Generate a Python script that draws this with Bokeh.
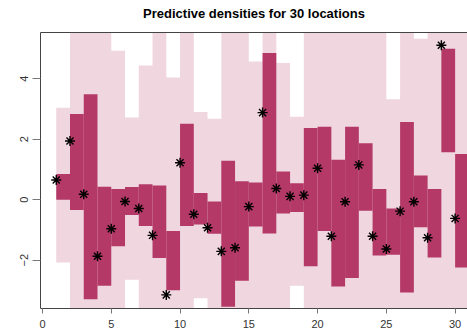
from bokeh.plotting import figure
from bokeh.models import Range1d, LinearAxis, FixedTicker
from bokeh.embed import file_html
from bokeh.resources import INLINE

# location index
locations = list(range(1, 31))
# observed values (stars)
observed = [0.65, 1.94, 0.18, -1.87, -0.96, -0.06, -0.29, -1.18, -3.15, 1.22,
            -0.48, -0.93, -1.71, -1.59, -0.23, 2.88, 0.37, 0.11, 0.15, 1.04,
            -1.21, -0.07, 1.15, -1.21, -1.63, -0.38, -0.07, -1.26, 5.11, -0.62]
# inner (dark) predictive interval
inner_lo = [0.00, -0.34, -3.29, -2.85, -1.54, -0.51, -0.87, -1.93, -3.00, -0.87,
            -0.82, -1.13, -3.54, -2.68, -0.89, -1.12, -0.46, -0.41, -2.20, -1.04,
            -2.87, -2.59, -0.37, -1.85, -1.82, -3.07, -0.91, -1.91, 1.57, -2.24]
inner_hi = [0.85, 2.83, 3.49, 0.43, 0.35, 0.42, 0.51, 0.47, -1.04, 2.51,
            0.22, -0.06, 1.29, 0.61, 0.57, 4.85, 0.93, 0.54, 2.37, 2.41,
            1.32, 2.41, 1.87, 0.35, -0.29, 2.57, 0.80, 0.35, 4.99, 1.51]
# outer (light) predictive interval
outer_lo = [-2.08, -4.2, -4.3, -4.4, -4.1, -2.65, -4.2, -4.3, -4.6, -4.1,
            -3.26, -4.0, -4.8, -4.3, -4.0, -4.2, -4.1, -2.85, -4.4, -4.2,
            -4.5, -4.4, -4.0, -4.2, -4.0, -4.6, -4.1, -4.3, -4.0, -4.5]
outer_hi = [3.04, 6.1, 6.6, 6.2, 4.93, 2.72, 4.44, 6.0, 4.04, 6.3,
            2.90, 2.68, 6.4, 6.2, 4.57, 7.2, 4.52, 2.74, 6.3, 6.2,
            6.5, 6.4, 6.0, 6.1, 3.32, 6.6, 5.32, 6.0, 7.4, 6.5]

x_ticks = [0, 5, 10, 15, 20, 25, 30]
y_ticks = [-2, 0, 2, 4]

right = [v + 1 for v in locations]

p = figure(width=467, height=335, output_backend="svg", toolbar_location=None,
           x_range=Range1d(-0.145, 30.9), y_range=Range1d(-3.6, 5.53),
           title="Predictive densities for 30 locations",
           min_border_left=40, min_border_right=0, min_border_top=0,
           min_border_bottom=27)
p.background_fill_color = "white"
p.border_fill_color = "white"
p.outline_line_color = None
p.xgrid.visible = False
p.ygrid.visible = False

p.title.align = "center"
p.title.text_font = "Liberation Sans"
p.title.text_font_size = "13px"
p.title.text_font_style = "bold"
p.title.text_color = "black"
p.title.standoff = 6

p.quad(left=locations, right=right, bottom=outer_lo, top=outer_hi,
       fill_color="#B03060", fill_alpha=0.2, line_color=None)
p.quad(left=locations, right=right, bottom=inner_lo, top=inner_hi,
       fill_color="#B03060", fill_alpha=0.95, line_color=None)
p.scatter(x=locations, y=observed, marker="asterisk", size=10,
          line_color="black", line_width=1.4)

for ax in p.xaxis:
    ax.ticker = FixedTicker(ticks=x_ticks)
    ax.axis_line_color = "#444444"
    ax.major_tick_line_color = "#777777"
    ax.major_tick_out = 5
    ax.major_tick_in = 0
    ax.minor_tick_line_color = None
    ax.major_label_standoff = 6
    ax.major_label_text_font = "Liberation Sans"
    ax.major_label_text_font_size = "11px"
    ax.major_label_text_color = "#333333"

for ax in p.yaxis:
    ax.ticker = FixedTicker(ticks=y_ticks)
    ax.axis_line_color = "#444444"
    ax.major_tick_line_color = "#777777"
    ax.major_tick_out = 8
    ax.major_tick_in = 0
    ax.minor_tick_line_color = None
    ax.major_label_standoff = 4
    ax.major_label_orientation = "vertical"
    ax.major_label_text_font = "Liberation Sans"
    ax.major_label_text_font_size = "11px"
    ax.major_label_text_color = "#333333"

top_axis = LinearAxis(ticker=FixedTicker(ticks=[]), axis_line_color="#444444",
                      major_tick_line_color=None, minor_tick_line_color=None,
                      major_label_text_font_size="0px",
                      axis_label=" ", axis_label_text_font_size="6px",
                      axis_label_text_color=None, axis_label_standoff=0)
p.add_layout(top_axis, "above")

open("out.html", "w").write(file_html(p, INLINE))
